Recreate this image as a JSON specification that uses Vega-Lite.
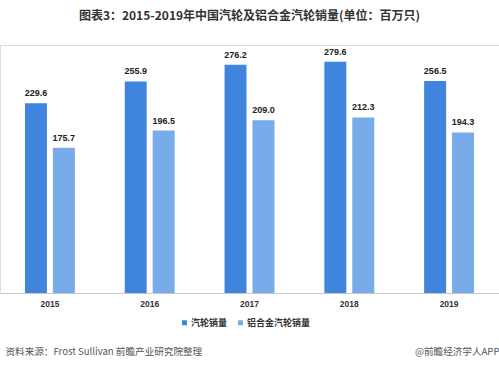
{
  "$schema": "https://vega.github.io/schema/vega-lite/v6.json",
  "width": 499,
  "height": 248,
  "autosize": {"type": "none"},
  "padding": {"left": 0, "right": 0, "top": 45, "bottom": 77},
  "background": "white",
  "title": {
    "text": "图表3：2015-2019年中国汽轮及铝合金汽轮销量(单位：百万只)",
    "anchor": "middle",
    "font": "Noto Sans CJK SC",
    "fontSize": 12,
    "fontWeight": "bold",
    "color": "#333333",
    "offset": 22
  },
  "data": {
    "values": [
      {"year": "2015", "series": "汽轮销量", "value": 229.6},
      {"year": "2015", "series": "铝合金汽轮销量", "value": 175.7},
      {"year": "2016", "series": "汽轮销量", "value": 255.9},
      {"year": "2016", "series": "铝合金汽轮销量", "value": 196.5},
      {"year": "2017", "series": "汽轮销量", "value": 276.2},
      {"year": "2017", "series": "铝合金汽轮销量", "value": 209.0},
      {"year": "2018", "series": "汽轮销量", "value": 279.6},
      {"year": "2018", "series": "铝合金汽轮销量", "value": 212.3},
      {"year": "2019", "series": "汽轮销量", "value": 256.5},
      {"year": "2019", "series": "铝合金汽轮销量", "value": 194.3}
    ]
  },
  "encoding": {
    "x": {
      "field": "year",
      "type": "nominal",
      "scale": {"paddingInner": 0.5, "paddingOuter": 0.25},
      "axis": {
        "labelAngle": 0,
        "labelFont": "Liberation Sans",
        "labelFontSize": 8.5,
        "labelFontWeight": "bold",
        "labelColor": "#333333",
        "labelPadding": 6,
        "ticks": false,
        "domainColor": "#c8c8c8",
        "title": "资料来源：Frost Sullivan  前瞻产业研究院整理",
        "titleFont": "Noto Sans CJK SC",
        "titleFontSize": 9.6,
        "titleFontWeight": "normal",
        "titleColor": "#555555",
        "titleX": 5,
        "titleY": 58,
        "titleAlign": "left",
        "titleBaseline": "middle"
      }
    },
    "xOffset": {
      "field": "series",
      "type": "nominal",
      "sort": ["汽轮销量", "铝合金汽轮销量"],
      "scale": {"paddingInner": 0.214, "paddingOuter": 0}
    },
    "y": {
      "field": "value",
      "type": "quantitative",
      "scale": {"domain": [0, 300]},
      "axis": {
        "labels": false,
        "ticks": false,
        "domain": false,
        "grid": false,
        "title": "@前瞻经济学人APP",
        "titleFont": "Noto Sans CJK SC",
        "titleFontSize": 9.6,
        "titleFontWeight": "normal",
        "titleColor": "#555555",
        "titleAngle": 0,
        "titleX": 499,
        "titleY": 306,
        "titleAlign": "right",
        "titleBaseline": "middle"
      }
    }
  },
  "layer": [
    {
      "mark": {"type": "bar"},
      "encoding": {
        "color": {
          "field": "series",
          "type": "nominal",
          "sort": ["汽轮销量", "铝合金汽轮销量"],
          "scale": {"domain": ["汽轮销量", "铝合金汽轮销量"], "range": ["#3f84dd", "#78abea"]},
          "legend": {
            "title": null,
            "orient": "none",
            "direction": "horizontal",
            "legendX": 180,
            "legendY": 273,
            "symbolType": "square",
            "symbolSize": 25,
            "symbolStrokeWidth": 0,
            "labelFont": "Noto Sans CJK SC",
            "labelFontSize": 9,
            "labelFontWeight": "bold",
            "labelColor": "#333333",
            "labelOffset": 2,
            "columnPadding": 8
          }
        }
      }
    },
    {
      "mark": {
        "type": "text",
        "dy": -10,
        "font": "Liberation Sans",
        "fontSize": 9,
        "fontWeight": "bold",
        "color": "#222222"
      },
      "encoding": {
        "text": {"field": "value", "type": "quantitative", "format": ".1f"}
      }
    }
  ]
}
